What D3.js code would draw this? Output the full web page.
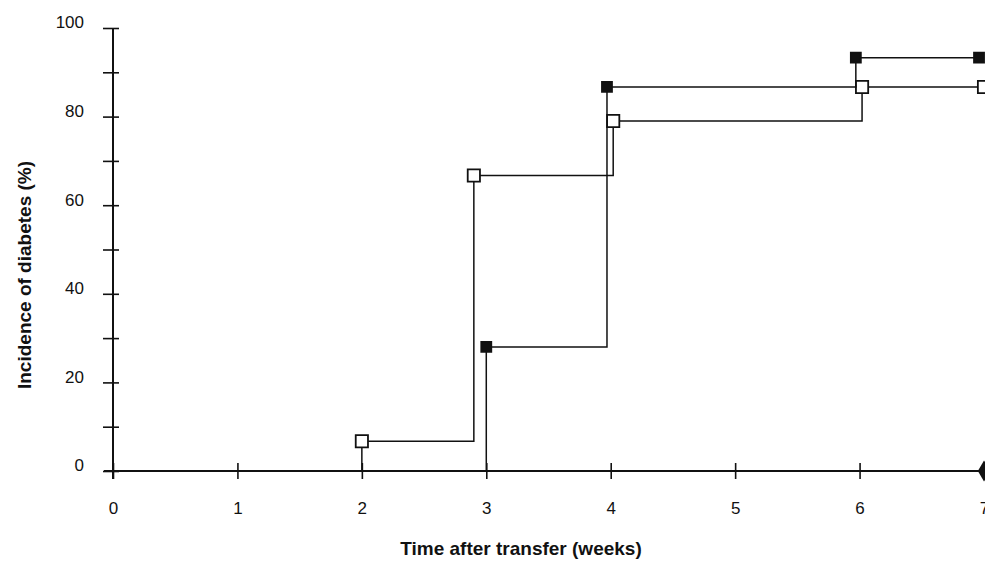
<!DOCTYPE html>
<html>
<head>
<meta charset="utf-8">
<script src="https://cdn.jsdelivr.net/npm/d3@7"></script>
<style>
  html, body { margin: 0; padding: 0; background: #fff; }
  svg { display: block; }
</style>
</head>
<body>
<div id="chart"></div>
<script>
// Incidence of diabetes after transfer
const weekTicks = [0, 1, 2, 3, 4, 5, 6, 7];
const percentTicks = [0, 10, 20, 30, 40, 50, 60, 70, 80, 90, 100];

// open squares
const openWeeks = [2, 2, 2.9, 4.02, 6.02, 7];
const openPct   = [0, 6.7, 66.7, 79, 86.7, 86.7];
// filled squares
const filledWeeks = [3, 3, 3.97, 5.97, 6.96];
const filledPct   = [0, 28, 86.7, 93.3, 93.3];
// filled diamond (no incidence)
const diamondWeeks = [7];
const diamondPct   = [0];

const width = 985, height = 565;
const ink = '#111';

const svg = d3.select('#chart').append('svg')
    .attr('width', width)
    .attr('height', height)
    .style('font-family', '"Liberation Sans", Arial, sans-serif');

const x = d3.scaleLinear().domain([0, 7]).range([113, 984]);
const y = d3.scaleLinear().domain([0, 100]).range([471, 28]);

// x axis: ticks cross the line
svg.append('g')
    .attr('transform', `translate(0,${y(0)})`)
    .call(d3.axisBottom(x).tickValues(weekTicks).tickSize(7).tickFormat(d3.format('d')))
    .call(g => {
        g.select('.domain').attr('d', `M${x(0) - 9},0H${width}`).attr('stroke', ink).attr('stroke-width', 2);
        g.selectAll('.tick line').attr('y1', -8).attr('y2', 8).attr('stroke', ink).attr('stroke-width', 1.6);
        g.selectAll('.tick text').attr('y', 37).attr('dy', '0.35em')
            .attr('font-size', 17).attr('fill', ink);
    });

// y axis: minor ticks every 10, labels every 20
svg.append('g')
    .attr('transform', `translate(${x(0)},0)`)
    .call(d3.axisLeft(y).tickValues(percentTicks).tickSize(7)
        .tickFormat(d => d % 20 === 0 ? d : ''))
    .call(g => {
        g.select('.domain').attr('d', `M0,${y(100)}V${y(0) + 8}`).attr('stroke', ink).attr('stroke-width', 2);
        g.selectAll('.tick line').attr('x1', -10).attr('x2', 6).attr('stroke', ink).attr('stroke-width', 1.6);
        g.selectAll('.tick text').attr('x', -29).attr('y', -6).attr('dy', '0.35em')
            .attr('font-size', 17).attr('fill', ink);
    });

// axis titles
svg.append('text')
    .attr('x', 521).attr('y', 555)
    .attr('text-anchor', 'middle')
    .attr('font-size', 19).attr('font-weight', 'bold').attr('fill', ink)
    .text('Time after transfer (weeks)');

svg.append('text')
    .attr('transform', 'translate(31,275) rotate(-90)')
    .attr('text-anchor', 'middle')
    .attr('font-size', 19).attr('font-weight', 'bold').attr('fill', ink)
    .text('Incidence of diabetes (%)');

const step = d3.line()
    .x(d => x(d[0]))
    .y(d => y(d[1]))
    .curve(d3.curveStepAfter);

function drawSeries(weeks, pct, symbolType, size, fill) {
    const pts = weeks.map((w, i) => [w, pct[i]]);
    svg.append('path')
        .datum(pts)
        .attr('d', step)
        .attr('fill', 'none')
        .attr('stroke', ink)
        .attr('stroke-width', 1.5);

    // markers (skip the axis start point)
    svg.append('g').selectAll('path')
        .data(pts.filter(d => d[1] > 0))
        .enter().append('path')
        .attr('transform', d => `translate(${x(d[0])},${y(d[1])})`)
        .attr('d', d3.symbol().type(symbolType).size(size))
        .attr('fill', fill)
        .attr('stroke', ink)
        .attr('stroke-width', 1.8);
}

drawSeries(openWeeks, openPct, d3.symbolSquare, 150, '#fff');
drawSeries(filledWeeks, filledPct, d3.symbolSquare, 100, ink);

svg.append('g').selectAll('path')
    .data(diamondWeeks.map((w, i) => [w, diamondPct[i]]))
    .enter().append('path')
    .attr('transform', d => `translate(${x(d[0])},${y(d[1])})`)
    .attr('d', d3.symbol().type(d3.symbolDiamond).size(130))
    .attr('fill', ink);
</script>
</body>
</html>
